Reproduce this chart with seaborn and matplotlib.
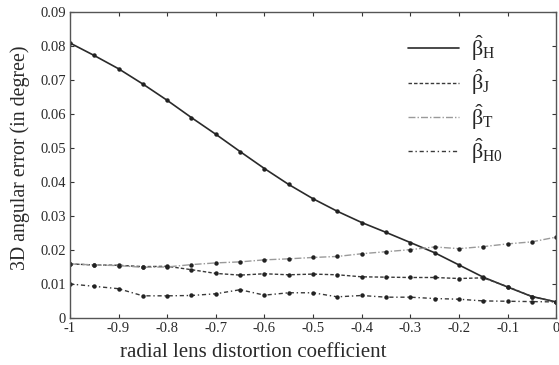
import numpy as np
import pandas as pd
import matplotlib
matplotlib.use("Agg")
import matplotlib.pyplot as plt
import seaborn as sns

k = [-1.0, -0.95, -0.9, -0.85, -0.8, -0.75, -0.7, -0.65, -0.6, -0.55, -0.5,
     -0.45, -0.4, -0.35, -0.3, -0.25, -0.2, -0.15, -0.1, -0.05, 0.0]
beta_H = [0.0809, 0.0772, 0.0733, 0.0688, 0.0640, 0.0589, 0.0540, 0.0489, 0.0439, 0.0392, 0.0350,
          0.0313, 0.0280, 0.0251, 0.0221, 0.0191, 0.0155, 0.0119, 0.0090, 0.0062, 0.0046]
beta_J = [0.0158, 0.0155, 0.0154, 0.0150, 0.0151, 0.0141, 0.0130, 0.0125, 0.0129, 0.0126, 0.0128,
          0.0126, 0.0120, 0.0119, 0.0118, 0.0118, 0.0115, 0.0117, 0.0091, 0.0062, 0.0046]
beta_T = [0.0158, 0.0155, 0.0153, 0.0148, 0.0149, 0.0156, 0.0161, 0.0164, 0.0170, 0.0173, 0.0177,
          0.0180, 0.0188, 0.0194, 0.0200, 0.0208, 0.0203, 0.0209, 0.0217, 0.0223, 0.0237]
beta_H0 = [0.0099, 0.0092, 0.0085, 0.0064, 0.0064, 0.0065, 0.0070, 0.0082, 0.0066, 0.0073, 0.0073,
           0.0061, 0.0065, 0.0060, 0.0060, 0.0056, 0.0054, 0.0049, 0.0048, 0.0047, 0.0046]
labels = [r"$\hat{\beta}_{\mathrm{H}}$", r"$\hat{\beta}_{\mathrm{J}}$",
          r"$\hat{\beta}_{\mathrm{T}}$", r"$\hat{\beta}_{\mathrm{H0}}$"]
xticks = [-1, -0.9, -0.8, -0.7, -0.6, -0.5, -0.4, -0.3, -0.2, -0.1, 0]
xticklabels = ["-1", "-0.9", "-0.8", "-0.7", "-0.6", "-0.5", "-0.4", "-0.3", "-0.2", "-0.1", "0"]
yticks = [0, 0.01, 0.02, 0.03, 0.04, 0.05, 0.06, 0.07, 0.08, 0.09]
yticklabels = ["0", "0.01", "0.02", "0.03", "0.04", "0.05", "0.06", "0.07", "0.08", "0.09"]

sns.set_style("ticks")
plt.rcParams['font.family'] = ['Liberation Serif', 'DejaVu Serif']
plt.rcParams['mathtext.fontset'] = 'custom'
plt.rcParams['mathtext.rm'] = 'Liberation Serif'
plt.rcParams['mathtext.it'] = 'Liberation Serif'

fig = plt.figure(figsize=(5.59, 3.65), dpi=100)
ax = fig.add_axes([0.125, 0.13, 0.870, 0.837])

series = [beta_H, beta_J, beta_T, beta_H0]
styles = [dict(color="#2a2a2a", linestyle="-", lw=1.2),
          dict(color="#3a3a3a", linestyle=(0, (2.5, 1.5)), lw=1.0),
          dict(color="#9a9a9a", linestyle=(0, (5, 1.5, 1, 1.5)), lw=1.0),
          dict(color="#3a3a3a", linestyle=(0, (3, 2, 1, 2)), lw=1.0)]
for vals, lab, st in zip(series, labels, styles):
    df = pd.DataFrame({"k": k, "err": vals})
    sns.lineplot(data=df, x="k", y="err", ax=ax, label=lab, marker="o",
                 markersize=3.2, markeredgewidth=0, markerfacecolor="#222222", **st)

ax.set_xlim(-1, 0)
ax.set_ylim(0, 0.09)
ax.set_xticks(xticks)
ax.set_xticklabels(xticklabels)
ax.set_yticks(yticks)
ax.set_yticklabels(yticklabels)
ax.tick_params(direction="in", length=3, width=0.8, labelsize=10.5, colors="#333333",
               top=True, right=True, labelcolor="#2a2a2a", pad=3)
for s in ax.spines.values():
    s.set_color("#555555")
    s.set_linewidth(1.0)
ax.set_xlabel("radial lens distortion coefficient", fontsize=15, color="#2a2a2a")
ax.xaxis.set_label_coords(0.377, -0.083)
ax.set_ylabel("3D angular error (in degree)", fontsize=14.3, color="#2a2a2a")
ax.yaxis.set_label_coords(-0.082, 0.522)

leg = ax.legend(loc="upper left", bbox_to_anchor=(0.695, 0.93), frameon=False,
                fontsize=16, handlelength=2.3, labelspacing=0.2, handletextpad=0.55,
                borderpad=0, borderaxespad=0)
for h in leg.get_lines():
    h.set_marker("")

fig.savefig("out.png", dpi=100)
